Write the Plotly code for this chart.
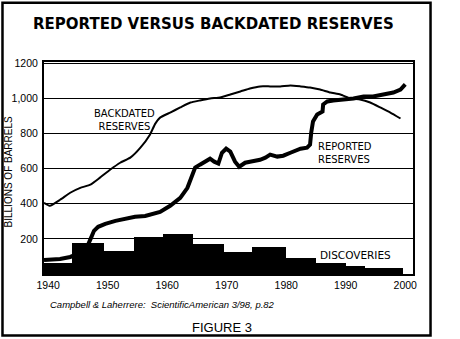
import numpy as np
import plotly.graph_objects as go

# ---- data ----
backdated_years = [1939.3, 1940.3, 1942.0, 1943.7, 1945.4, 1947.1, 1948.7, 1950.4, 1952.1, 1953.8,
                   1955.5, 1957.1, 1958.0, 1958.8, 1960.5, 1962.2, 1963.9, 1965.5, 1967.2, 1968.9,
                   1970.6, 1972.3, 1973.9, 1975.6, 1977.3, 1979.0, 1980.7, 1982.4, 1984.0, 1985.7,
                   1987.4, 1989.1, 1990.8, 1992.4, 1994.1, 1995.8, 1997.5, 1999.2]
backdated_values = [406, 389, 423, 463, 491, 509, 549, 594, 634, 663,
                    720, 794, 857, 891, 920, 949, 977, 989, 1000, 1006,
                    1023, 1040, 1057, 1069, 1069, 1069, 1074, 1069, 1063, 1051,
                    1034, 1023, 1000, 994, 977, 949, 920, 886]

reported_years = [1939.3, 1942.0, 1943.7, 1945.4, 1946.2, 1946.7, 1947.2, 1947.7, 1948.4, 1949.6,
                  1951.3, 1952.9, 1954.6, 1956.3, 1957.1, 1958.8, 1960.5, 1962.2, 1963.4, 1964.2,
                  1964.7, 1965.5, 1966.4, 1967.2, 1967.9, 1968.6, 1969.2, 1969.9, 1970.6, 1971.4,
                  1972.1, 1973.1, 1973.9, 1975.6, 1976.5, 1977.3, 1978.5, 1979.5, 1980.7, 1982.4,
                  1983.5, 1984.0, 1984.2, 1984.5, 1985.2, 1986.1, 1986.2, 1986.9, 1987.9, 1989.6,
                  1991.3, 1993.0, 1994.6, 1996.3, 1998.0, 1999.2, 2000.0]
reported_values = [80, 86, 97, 120, 143, 166, 206, 246, 269, 286,
                   303, 314, 326, 331, 337, 354, 389, 434, 491, 554,
                   606, 623, 640, 657, 640, 629, 691, 714, 697, 640,
                   611, 634, 640, 651, 663, 680, 669, 674, 691, 714,
                   720, 737, 806, 869, 909, 926, 966, 983, 989, 994,
                   1000, 1011, 1011, 1023, 1034, 1051, 1080]

discovery_edges = [1939.3, 1944.0, 1949.4, 1954.5, 1959.3, 1964.4, 1969.6, 1974.3,
                   1980.0, 1985.0, 1990.0, 1993.3, 1999.7]
discovery_values = [63, 177, 131, 211, 229, 171, 126, 154, 91, 63, 46, 34]

x_ticks = [1940, 1950, 1960, 1970, 1980, 1990, 2000]
y_ticks = [200, 400, 600, 800, 1000, 1200]
y_ticktext = ["200", "400", "600", "800", "1,000", "1200"]

edges = np.array(discovery_edges)
bar_centers = (edges[:-1] + edges[1:]) / 2
bar_widths = edges[1:] - edges[:-1]

fig = go.Figure()
fig.add_trace(go.Bar(x=bar_centers, y=discovery_values, width=bar_widths,
                     marker=dict(color="black", line=dict(width=0)), showlegend=False))
fig.add_trace(go.Scatter(x=backdated_years, y=backdated_values, mode="lines",
                         line=dict(color="black", width=2, shape="spline", smoothing=0.4),
                         showlegend=False))
fig.add_trace(go.Scatter(x=reported_years, y=reported_values, mode="lines",
                         line=dict(color="black", width=4),
                         showlegend=False))

ann_font = dict(family="DejaVu Sans", size=10, color="black")
fig.update_layout(
    width=460, height=339,
    margin=dict(l=44, r=47, t=62, b=65),
    paper_bgcolor="white", plot_bgcolor="white",
    bargap=0,
    font=dict(family="Liberation Sans", size=10.5, color="black"),
    xaxis=dict(range=[1939.3, 2001.3], tickvals=x_ticks, showgrid=False, zeroline=False,
               showline=True, mirror=True, linecolor="black", linewidth=2, ticks="",
               tickfont=dict(family="Liberation Sans", size=10.5)),
    yaxis=dict(range=[0, 1208], tickvals=y_ticks, ticktext=y_ticktext, showgrid=True,
               gridcolor="black", gridwidth=1, zeroline=False,
               showline=True, mirror=True, linecolor="black", linewidth=2, ticks="",
               ticklabelstandoff=2,
               tickfont=dict(family="Liberation Sans", size=10.5)),
    shapes=[dict(type="rect", xref="paper", yref="paper",
                 x0=-0.1125, x1=1.0475, y0=-0.29, y1=1.28,
                 line=dict(color="black", width=2.5), fillcolor="rgba(0,0,0,0)")],
    annotations=[
        dict(text="<b>REPORTED VERSUS BACKDATED RESERVES</b>", xref="paper", yref="paper",
             x=0.46, y=1.18, showarrow=False, xanchor="center", yanchor="middle",
             font=dict(family="DejaVu Sans", size=15, color="black")),
        dict(text="BILLIONS OF BARRELS", xref="paper", yref="paper", x=-0.097, y=0.48,
             textangle=-90, showarrow=False, xanchor="center", yanchor="middle",
             font=dict(family="Liberation Sans", size=10, color="black")),
        dict(text="BACKDATED<br>RESERVES", xref="x", yref="y", x=1952.9, y=875,
             showarrow=False, xanchor="center", yanchor="middle", align="center", font=ann_font),
        dict(text="REPORTED<br>RESERVES", xref="x", yref="y", x=1985.0, y=692,
             showarrow=False, xanchor="left", yanchor="middle", align="left", font=ann_font),
        dict(text="DISCOVERIES", xref="x", yref="y", x=1985.3, y=110,
             showarrow=False, xanchor="left", yanchor="middle", font=dict(family="DejaVu Sans", size=10.5, color="black")),
        dict(text="<i>Campbell &amp; Laherrere:  ScientificAmerican 3/98, p.82</i>", xref="paper", yref="paper",
             x=0.01, y=-0.145, showarrow=False, xanchor="left", yanchor="middle",
             font=dict(family="Liberation Sans", size=9.5, color="black")),
        dict(text="FIGURE 3", xref="paper", yref="paper", x=0.483, y=-0.25,
             showarrow=False, xanchor="center", yanchor="middle",
             font=dict(family="Liberation Sans", size=13, color="black")),
    ],
)

fig.write_html("out.html")
